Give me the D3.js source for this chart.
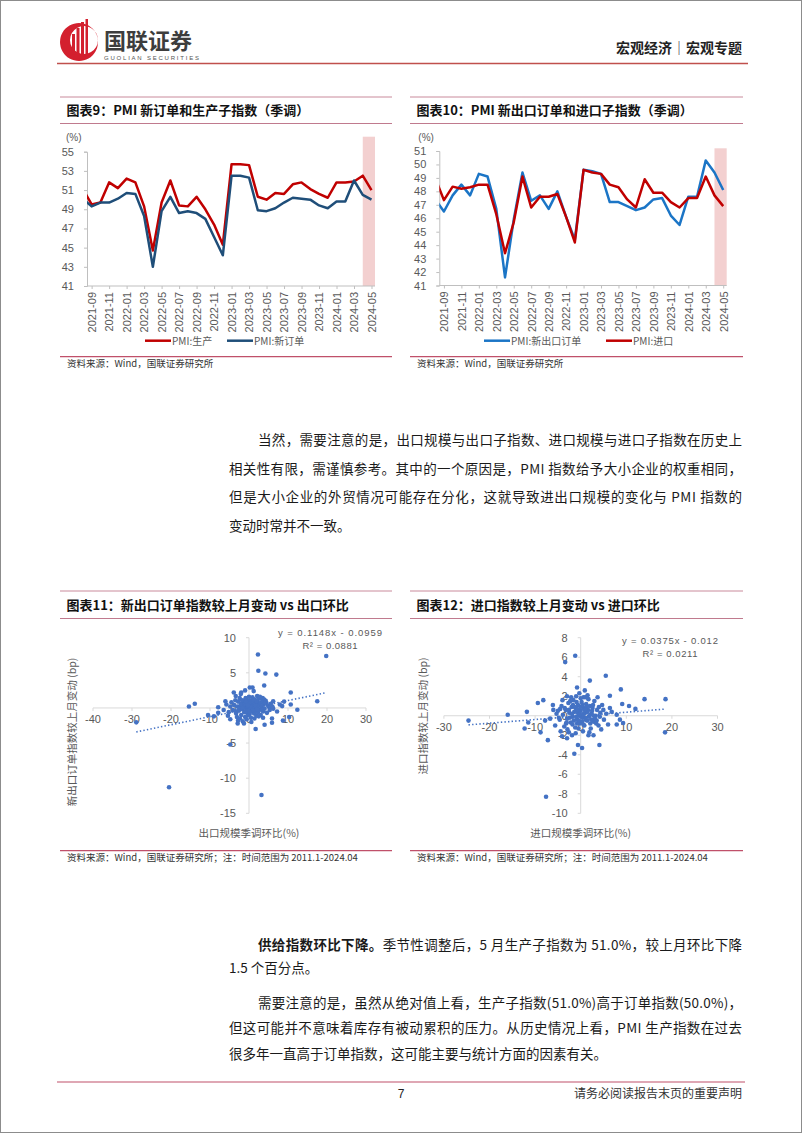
<!DOCTYPE html>
<html><head><meta charset="utf-8">
<script src="https://cdn.jsdelivr.net/npm/d3@7"></script>
<style>
html,body{margin:0;padding:0;background:#fff;}
svg{display:block;}
</style></head><body>
<svg id="page" width="802" height="1133"></svg>
<script>
// ---------------- DATA ----------------
const months = ['2021-08','2021-09','2021-10','2021-11','2021-12','2022-01','2022-02','2022-03','2022-04','2022-05','2022-06','2022-07','2022-08','2022-09','2022-10','2022-11','2022-12','2023-01','2023-02','2023-03','2023-04','2023-05','2023-06','2023-07','2023-08','2023-09','2023-10','2023-11','2023-12','2024-01','2024-02','2024-03','2024-04','2024-05'];
const xTickLabels = months.filter((m,i)=>i%2===1);
const shadeFrom = '2024-04';

// Chart 9: PMI production & new orders (SA)
const prodSA   = [51.1,49.5,49.7,51.8,51.2,52.2,51.8,49.3,44.7,49.7,52.0,49.4,49.3,50.3,49.0,47.4,45.3,53.7,53.7,53.6,50.3,50.0,50.7,50.6,51.6,51.8,51.1,50.6,50.2,51.8,51.8,51.9,52.5,51.0];
const newOrdSA = [50.1,49.3,49.7,49.7,50.1,50.7,50.6,48.3,43.0,48.8,50.3,48.6,48.8,48.6,48.0,46.1,44.2,52.5,52.5,52.3,48.9,48.8,49.1,49.7,50.2,50.1,50.0,49.4,49.1,49.8,49.8,52.0,50.5,50.0];
const ticks9 = [41,43,45,47,49,51,53,55];

// Chart 10: PMI new export orders & imports (SA)
const exportSA = [47.4,46.5,47.7,48.5,47.7,49.3,49.1,46.7,41.6,45.9,49.4,47.3,47.7,46.7,48.0,46.1,44.4,49.6,49.5,49.3,47.2,47.2,46.9,46.6,46.8,47.4,47.5,46.2,45.5,47.6,47.6,50.3,49.4,48.1];
const importSA = [49.0,47.35,48.35,48.2,48.3,48.5,48.5,46.3,43.4,45.7,49.1,46.8,47.6,47.6,47.8,46.1,44.2,49.6,49.4,49.3,48.5,48.3,47.4,46.8,48.9,47.9,47.9,47.2,46.8,47.5,47.5,49.1,47.7,46.9];
const ticks10 = [41,42,43,44,45,46,47,48,49,50,51];

// Chart 11: export scale m/m (x) vs new export order index change (y)
const expPts = [
[2.3,7.6],[19.8,7.4],[2.4,5.3],[4.2,4.9],[7.0,4.75],[3.9,3.2],[0.2,2.9],[0.9,2.9],[-3.9,2.2],[-2.0,2.2],
[10.7,2.2],[17.5,0.95],[12.4,-0.25],[10.7,0.5],[-15.4,0.2],[-13.9,0.6],[-7.9,0.1],[-7.9,-0.7],[-28.9,-2.05],[8.7,-1.8],
[10.3,-1.3],[5.9,-1.5],[5.9,-2.1],[3.6,-1.4],[4.0,-2.4],[1.7,-3.0],[-1.6,-1.9],[-1.3,-2.2],[-2.9,-2.2],[-4.8,-1.6],
[-5.4,-1.1],[-4.8,-5.2],[-20.5,-11.3],[3.2,-12.4],[-6.05,0.95],[-5.8,0.5],[6.2,0.95],[7.9,0.5],[8.5,0.26],[6.2,-0.1],
[4.5,0.7],[5.2,0.1],[3.5,1.4],[-3.4,1.7],[-2.1,2.0],[-0.85,1.4],[2.1,1.7],[2.9,1.4],[3.9,1.2],[1.0,1.0],
[-4.5,0.8],[-4.2,-0.3],[-3.8,0.4],[-3.5,1.1],[-3.3,-0.8],[-3.0,0.2],[-2.8,0.9],[-2.6,-0.4],[-2.4,1.4],[-2.2,0.1],
[-2.0,-1.0],[-1.9,0.6],[-1.7,-0.2],[-1.5,1.0],[-1.4,0.3],[-1.2,-0.6],[-1.1,0.8],[-1.0,-1.3],[-0.9,0.2],[-0.8,1.3],
[-0.7,-0.1],[-0.6,0.5],[-0.5,-0.7],[-0.4,1.0],[-0.3,0.0],[-0.2,-0.4],[-0.1,0.7],[0.0,0.3],[0.1,-0.9],[0.2,1.1],
[0.3,-0.2],[0.4,0.5],[0.5,-1.4],[0.6,0.9],[0.7,0.1],[0.8,-0.5],[0.9,1.5],[1.0,0.4],[1.1,-0.1],[1.2,0.7],
[1.3,-0.8],[1.4,0.2],[1.5,1.2],[1.6,-0.3],[1.8,0.6],[1.9,-1.1],[2.0,0.0],[2.1,0.9],[2.3,-0.6],[2.4,0.4],
[2.6,1.3],[2.7,-0.2],[2.9,0.7],[3.0,-1.0],[3.2,0.2],[3.4,0.9],[3.6,-0.5],[3.8,0.5],[4.0,-0.1],[4.3,1.0],
[4.6,-0.7],[4.9,0.3],[5.3,-0.3],[5.6,0.6],[-0.5,0.6],[0.3,0.8],[-1.3,0.5],[1.7,0.3],[-2.5,-0.1],[2.2,-0.2],
[-0.2,-1.0],[0.8,1.0],[-3.6,-0.4],[3.3,-0.3],[-1.8,1.1],[1.1,1.2],[-0.9,-0.5],[0.5,0.1],[-4.8,0.2],[-2.1,0.5],
[0.0,1.6],[1.4,-1.5],[-0.6,-1.6],[2.8,1.6],[-3.1,-1.3],[4.1,0.7],[-5.2,-0.6],[6.0,0.2],[-6.5,-0.3],[7.2,-0.5],
[-1.0,2.5],[1.2,2.4],[-2.8,-1.8],[0.6,-2.0],[9.0,0.9],[-9.0,-1.2],[-10.5,-1.0],[-0.3,0.4],[0.9,-0.3],[-1.6,0.0],
[1.9,1.0],[-0.8,0.9],[2.5,-1.2],[-2.3,-1.5],[0.2,-0.6]];
const expFit = {slope:0.1148, intercept:-0.0959, eq:'y = 0.1148x - 0.0959', r2:'R² = 0.0881'};
const ticks11x = [-40,-30,-20,-10,0,10,20,30];
const ticks11y = [-15,-10,-5,0,5,10];

// Chart 12: import scale m/m (x) vs import index change (y)
const impPts = [
[-1.2,6.15],[-3.4,5.5],[2.0,3.6],[5.5,4.1],[8.8,2.7],[-0.8,2.9],[14.0,1.7],[18.6,1.7],[6.4,2.05],[-3.0,2.0],
[-1.0,2.0],[0.6,1.9],[-8.2,1.6],[-9.4,1.3],[-6.1,1.1],[-11.8,0.4],[-16.0,0.1],[-24.6,-0.5],[-11.5,-0.7],[-12.3,-1.3],
[9.1,1.2],[10.6,1.0],[12.0,0.7],[18.5,-1.7],[-8.8,-1.7],[-7.2,-2.5],[-4.1,-2.1],[-3.0,-2.3],[-1.9,-2.0],[-2.6,-1.7],
[-0.6,-3.0],[0.3,-3.3],[-1.4,-3.9],[1.7,-2.0],[2.8,-2.0],[4.1,-3.0],[-7.6,-8.3],[4.96,0.6],[6.4,0.8],[7.9,0.1],
[8.6,-0.4],[9.3,-0.75],[7.9,-0.9],[3.5,-0.5],[4.2,-0.1],[2.1,-0.8],[1.0,-0.2],[-6.7,-0.3],[-7.8,-0.5],[-5.3,0.2],
[-4.5,0.7],[-3.2,-0.8],
[-5.0,0.5],[-4.6,-0.4],[-4.2,1.0],[-3.9,0.1],[-3.6,-1.1],[-3.3,0.6],[-3.0,-0.3],[-2.7,1.3],[-2.5,0.3],[-2.2,-0.7],
[-2.0,0.9],[-1.8,-0.1],[-1.6,1.6],[-1.4,0.4],[-1.2,-1.2],[-1.0,0.7],[-0.8,-0.4],[-0.6,1.1],[-0.4,0.0],[-0.2,-0.8],
[0.0,0.5],[0.2,1.4],[0.4,-0.2],[0.6,0.8],[0.8,-1.0],[1.0,0.3],[1.2,1.2],[1.4,-0.5],[1.6,0.6],[1.8,-0.1],
[2.0,1.0],[2.2,-1.3],[2.4,0.2],[2.6,0.8],[2.8,-0.6],[3.0,1.5],[3.3,0.0],[3.6,0.6],[3.9,-1.0],[4.3,0.3],
[4.7,1.1],[5.1,-0.4],[5.6,0.2],[-0.3,2.3],[0.9,2.6],[-2.1,1.9],[1.5,2.1],[-4.0,1.6],[3.7,1.9],[-1.1,-1.8],
[0.5,-1.6],[-2.9,-1.4],[1.9,-1.7],[-0.1,0.9],[0.7,0.2],[-0.7,0.3],[1.1,-0.4],[-1.5,-0.5],[2.5,0.5],[-2.4,-0.2],
[0.3,-0.6],[-0.9,1.4],[1.3,0.9],[-3.5,0.8],[3.1,-0.3],[-1.9,0.2],[0.1,-0.1],[-0.5,-1.3],[2.1,0.1],[-1.3,0.9],
[6.0,-0.9],[-6.0,0.6],[6.8,0.4],[-5.6,-1.0],[4.5,-1.4],[-4.4,-1.6],[0.0,1.8],[1.7,1.7],[-1.7,1.1],[-2.6,0.6],
[2.7,1.1],[-0.2,0.2],[0.6,-0.9],[-0.8,-0.8],[1.5,0.4],[-3.1,-0.7],[3.4,-0.8],[-1.0,-0.1],[0.9,0.6],[-0.4,-0.5],
[4.0,0.9],[-4.8,-0.2],[2.9,0.0],[-2.3,1.5],[1.0,1.9],[-0.6,0.6],[0.4,1.1],[-1.8,-0.9],[2.3,-0.4],[0.2,0.0]];
const impFit = {slope:0.0375, intercept:-0.012, eq:'y = 0.0375x - 0.012', r2:'R² = 0.0211'};
const ticks12x = [-30,-20,-10,0,10,20,30];
const ticks12y = [-10,-8,-6,-4,-2,0,2,4,6,8];

// ---------------- STYLE ----------------
const CJK = "'Noto Sans CJK SC','Noto Sans',sans-serif";
const NUM = "'Liberation Sans Narrow','Liberation Sans',Arial,sans-serif";
const AX = '#595959';
const svg = d3.select('#page');
svg.append('rect').attr('width',802).attr('height',1133).attr('fill','#fff');
svg.append('rect').attr('x',0.5).attr('y',0.5).attr('width',801).attr('height',1132)
  .attr('fill','none').attr('stroke','#8c8c8c');

// ---------------- HEADER ----------------
const logo = svg.append('g').attr('transform','translate(79,42)');
logo.append('path')
  .attr('d', 'M0,-19A19,19 0 1,0 0.01,-19Z M5,-16A14,14 0 1,1 4.99,-16Z')
  .attr('fill-rule','evenodd').attr('fill','#d3202e');
[[-7,-8,3],[-2.5,-14,3],[2,-20,3],[6.5,-23,2.5]].forEach(b=>{
  logo.append('rect').attr('x',b[0]).attr('y',b[1]).attr('width',b[2]).attr('height',19-b[1]-Math.abs(b[0])*0.9)
    .attr('fill','#d3202e');
});
svg.append('text').attr('x',104).attr('y',48.5).text('国联证券')
  .attr('font-family',CJK).attr('font-weight','bold').attr('font-size',22).attr('fill','#3d3d3d');
svg.append('text').attr('x',104).attr('y',59.5).text('GUOLIAN SECURITIES')
  .attr('font-family',"'Liberation Sans',Arial,sans-serif").attr('font-size',6).attr('fill','#555')
  .attr('textLength',95).attr('lengthAdjust','spacing');
svg.append('text').attr('x',742).attr('y',53).attr('text-anchor','end').text('宏观经济│宏观专题')
  .attr('font-family',CJK).attr('font-weight','bold').attr('font-size',14).attr('fill','#222');
svg.append('line').attr('x1',57).attr('x2',748).attr('y1',63.5).attr('y2',63.5)
  .attr('stroke','#c0504d').attr('stroke-width',1.5);

// ---------------- helpers ----------------
function titleBox(x1,x2,yTop,yBot,title){
  svg.append('line').attr('x1',x1).attr('x2',x2).attr('y1',yTop).attr('y2',yTop).attr('stroke','#c98a9b').attr('stroke-width',1);
  svg.append('line').attr('x1',x1).attr('x2',x2).attr('y1',yBot).attr('y2',yBot).attr('stroke','#c07a8e').attr('stroke-width',1.2);
  svg.append('text').attr('x',x1+6.5).attr('y',(yTop+yBot)/2+4.8).text(title)
    .attr('font-family',CJK).attr('font-weight','bold').attr('font-size',13).attr('fill','#111');
}
function sourceBox(x1,x2,y,txt){
  svg.append('line').attr('x1',x1).attr('x2',x2).attr('y1',y).attr('y2',y).attr('stroke','#c0506a').attr('stroke-width',1.2);
  svg.append('text').attr('x',x1+7).attr('y',y+10.5).text(txt)
    .attr('font-family',CJK).attr('font-size',9.5).attr('fill','#333');
}

function lineChart(c){
  const g = svg.append('g');
  const x = d3.scaleLinear().domain([0.47,33.4]).range([c.axisX, c.rightX]);
  const y = d3.scaleLinear().domain([c.ticks[0], c.ticks[c.ticks.length-1]]).range([c.bottomY, c.topY]);
  g.append('rect').attr('x',x(months.indexOf(shadeFrom))).attr('y',c.shadeTop)
    .attr('width',c.rightX - x(months.indexOf(shadeFrom))).attr('height',c.bottomY-c.shadeTop)
    .attr('fill','#f3d0d0');
  const ya = g.append('g').attr('transform',`translate(${c.axisX},0)`)
    .call(d3.axisLeft(y).tickValues(c.ticks).tickSize(3).tickPadding(10).tickFormat(d3.format('d')));
  ya.select('.domain').attr('stroke','#bfbfbf');
  ya.selectAll('.tick line').attr('stroke','#bfbfbf');
  ya.selectAll('text').attr('font-family',NUM).attr('font-size',11).attr('fill',AX);
  const xa = g.append('g').attr('transform',`translate(0,${c.bottomY})`)
    .call(d3.axisBottom(x).tickValues(xTickLabels.map(m=>months.indexOf(m))).tickSize(3)
      .tickFormat(i=>months[i]));
  xa.select('.domain').attr('d',`M${c.axisX},0H${c.rightX}`).attr('stroke','#bfbfbf');
  xa.selectAll('.tick line').attr('stroke','#bfbfbf');
  xa.selectAll('text').attr('font-family',NUM).attr('font-size',11).attr('fill',AX)
    .attr('transform','rotate(-90)').attr('text-anchor','end').attr('x',-6).attr('y',0).attr('dy','0.35em');
  g.append('text').attr('x',c.axisX-21).attr('y',141).text('(%)')
    .attr('font-family',NUM).attr('font-size',10).attr('fill',AX);
  const cid = 'clip'+c.id;
  g.append('clipPath').attr('id',cid).append('rect')
    .attr('x',c.axisX).attr('y',c.topY-20).attr('width',c.rightX-c.axisX).attr('height',c.bottomY-c.topY+30);
  const line = d3.line().x((d,i)=>x(i)).y(d=>y(d));
  c.series.forEach(s=>{
    g.append('path').datum(s.data).attr('d',line).attr('fill','none')
      .attr('stroke',s.color).attr('stroke-width',2.5).attr('stroke-linejoin','round')
      .attr('clip-path',`url(#${cid})`);
  });
  c.legend.forEach(l=>{
    const s = c.series[l.idx];
    g.append('line').attr('x1',l.x).attr('x2',l.x+26).attr('y1',340.7).attr('y2',340.7)
      .attr('stroke',s.color).attr('stroke-width',2.5);
    g.append('text').attr('x',l.x+27).attr('y',344.5).text(s.name)
      .attr('font-family',CJK).attr('font-size',10).attr('fill',AX);
  });
}

function scatterChart(c){
  const g = svg.append('g');
  const x = d3.scaleLinear().domain([c.xt[0], c.xt[c.xt.length-1]]).range(c.xRange);
  const y = d3.scaleLinear().domain([c.yt[0], c.yt[c.yt.length-1]]).range(c.yRange);
  const x0 = x(0), y0 = y(0);
  g.append('line').attr('x1',c.xRange[0]).attr('x2',c.xRange[1]).attr('y1',y0).attr('y2',y0).attr('stroke','#d9d9d9');
  g.append('line').attr('x1',x0).attr('x2',x0).attr('y1',c.yRange[0]).attr('y2',c.yRange[1]).attr('stroke','#d9d9d9');
  c.yt.forEach(v=>{
    g.append('line').attr('x1',x0-3).attr('x2',x0).attr('y1',y(v)).attr('y2',y(v)).attr('stroke','#d9d9d9');
    g.append('text').attr('x',x0-13).attr('y',y(v)).attr('dy','0.35em').attr('text-anchor','end').text(v)
      .attr('font-family',NUM).attr('font-size',11).attr('fill',AX);
  });
  c.xt.forEach(v=>{
    g.append('line').attr('x1',x(v)).attr('x2',x(v)).attr('y1',y0).attr('y2',y0+3).attr('stroke','#d9d9d9');
    g.append('text').attr('x',x(v)).attr('y',y0+15).attr('text-anchor','middle').text(v)
      .attr('font-family',NUM).attr('font-size',11).attr('fill',AX);
  });
  g.selectAll('circle').data(c.pts).join('circle')
    .attr('cx',d=>x(d[0])).attr('cy',d=>y(d[1])).attr('r',2.3).attr('fill','#4472c4');
  const ext = d3.extent(c.pts, d=>d[0]);
  g.append('line').attr('x1',x(ext[0])).attr('x2',x(ext[1]))
    .attr('y1',y(c.fit.slope*ext[0]+c.fit.intercept)).attr('y2',y(c.fit.slope*ext[1]+c.fit.intercept))
    .attr('stroke','#4472c4').attr('stroke-width',1.6).attr('stroke-dasharray','1.4 2.2').attr('stroke-linecap','butt');
  g.append('text').attr('x',c.eqX).attr('y',c.eqY+3.2).attr('text-anchor','middle').text(c.fit.eq)
    .attr('font-family',NUM).attr('font-size',9.5).attr('fill',AX)
    .attr('textLength',c.eqW).attr('lengthAdjust','spacing');
  g.append('text').attr('x',c.eqX).attr('y',c.r2Y+3.2).attr('text-anchor','middle').text(c.fit.r2)
    .attr('font-family',NUM).attr('font-size',9.5).attr('fill',AX)
    .attr('textLength',c.r2W).attr('lengthAdjust','spacing');
  g.append('text').attr('x',x0).attr('y',836.5).attr('text-anchor','middle').text(c.xTitle)
    .attr('font-family',CJK).attr('font-size',10.5).attr('fill',AX);
  g.append('text').attr('transform',`translate(${c.yTitleX},${c.yTitleY}) rotate(-90)`)
    .attr('text-anchor','middle').attr('dy','0.35em').text(c.yTitle)
    .attr('font-family',CJK).attr('font-size',10.5).attr('fill',AX);
}

// ---------------- CHART 9 ----------------
titleBox(60,392,97,123.5,'图表9：PMI 新订单和生产子指数（季调）');
lineChart({id:9, axisX:87, rightX:375, topY:151.7, bottomY:286, ticks:ticks9, shadeTop:136.7,
  series:[{name:'PMI:生产',data:prodSA,color:'#c00000'},{name:'PMI:新订单',data:newOrdSA,color:'#1f4e79'}],
  legend:[{idx:1,x:227},{idx:0,x:145}]});
sourceBox(60,392,356.7,'资料来源：Wind，国联证券研究所');

// ---------------- CHART 10 ----------------
titleBox(410,743,97,123.5,'图表10：PMI 新出口订单和进口子指数（季调）');
lineChart({id:10, axisX:439.3, rightX:726.7, topY:151, bottomY:285.5, ticks:ticks10, shadeTop:148.3,
  series:[{name:'PMI:新出口订单',data:exportSA,color:'#1b75c6'},{name:'PMI:进口',data:importSA,color:'#c00000'}],
  legend:[{idx:0,x:484},{idx:1,x:606}]});
sourceBox(410,743,356.7,'资料来源：Wind，国联证券研究所');

// ---------------- BODY TEXT ----------------
function textLine(x, yb, end, parts, size){
  const t = svg.append('text').attr('x',x).attr('y',yb)
    .attr('font-family',CJK).attr('font-size',size).attr('fill','#1a1a1a');
  parts.forEach(p=>{
    const ts = t.append('tspan').text(p.t);
    if(p.b) ts.attr('font-weight','bold');
  });
  if(end){
    const n = parts.map(p=>p.t).join('').length;
    const nat = t.node().getComputedTextLength();
    t.attr('letter-spacing', ((end - x - nat)/(n-1)).toFixed(3));
  }
}
const FS = 13.5;
textLine(258,445,742,[{t:'当然，需要注意的是，出口规模与出口子指数、进口规模与进口子指数在历史上'}],FS);
textLine(229,474,742,[{t:'相关性有限，需谨慎参考。其中的一个原因是，PMI 指数给予大小企业的权重相同，'}],FS);
textLine(229,502,742,[{t:'但是大小企业的外贸情况可能存在分化，这就导致进出口规模的变化与 PMI 指数的'}],FS);
textLine(229,531,null,[{t:'变动时常并不一致。'}],FS);

textLine(258,950,742,[{t:'供给指数环比下降。',b:true},{t:'季节性调整后，5 月生产子指数为 51.0%，较上月环比下降'}],FS);
textLine(229,973,null,[{t:'1.5 个百分点。'}],FS);
textLine(258,1008,742,[{t:'需要注意的是，虽然从绝对值上看，生产子指数(51.0%)高于订单指数(50.0%)，'}],FS);
textLine(229,1033,742,[{t:'但这可能并不意味着库存有被动累积的压力。从历史情况上看，PMI 生产指数在过去'}],FS);
textLine(229,1059,null,[{t:'很多年一直高于订单指数，这可能主要与统计方面的因素有关。'}],FS);

// ---------------- CHART 11 ----------------
titleBox(60,392,591,618.5,'图表11：新出口订单指数较上月变动 vs 出口环比');
scatterChart({xt:ticks11x, yt:ticks11y, xRange:[93,366], yRange:[813.3,637.7], pts:expPts, fit:expFit,
  eqX:330, eqY:632.7, r2Y:646, eqW:104, r2W:55,
  xTitle:'出口规模季调环比(%)', yTitle:'新出口订单指数较上月变动 (bp)', yTitleX:72, yTitleY:732});
sourceBox(60,392,850.7,'资料来源：Wind，国联证券研究所；注：时间范围为 2011.1-2024.04');

// ---------------- CHART 12 ----------------
titleBox(410,743,591,618.5,'图表12：进口指数较上月变动 vs 进口环比');
scatterChart({xt:ticks12x, yt:ticks12y, xRange:[443.9,717.5], yRange:[813.3,637.7], pts:impPts, fit:impFit,
  eqX:670, eqY:640.5, r2Y:653.5, eqW:96, r2W:55,
  xTitle:'进口规模季调环比(%)', yTitle:'进口指数较上月变动 (bp)', yTitleX:423, yTitleY:716});
sourceBox(410,743,850.7,'资料来源：Wind，国联证券研究所；注：时间范围为 2011.1-2024.04');

// ---------------- FOOTER ----------------
svg.append('line').attr('x1',57).attr('x2',745).attr('y1',1082).attr('y2',1082).attr('stroke','#c0506a').attr('stroke-width',1.2);
svg.append('text').attr('x',401).attr('y',1098).attr('text-anchor','middle').text('7')
  .attr('font-family',"'Liberation Sans',Arial,sans-serif").attr('font-size',12).attr('fill','#222');
svg.append('text').attr('x',742).attr('y',1098).attr('text-anchor','end').text('请务必阅读报告末页的重要声明')
  .attr('font-family',CJK).attr('font-size',12).attr('fill','#333');
</script>
</body></html>
